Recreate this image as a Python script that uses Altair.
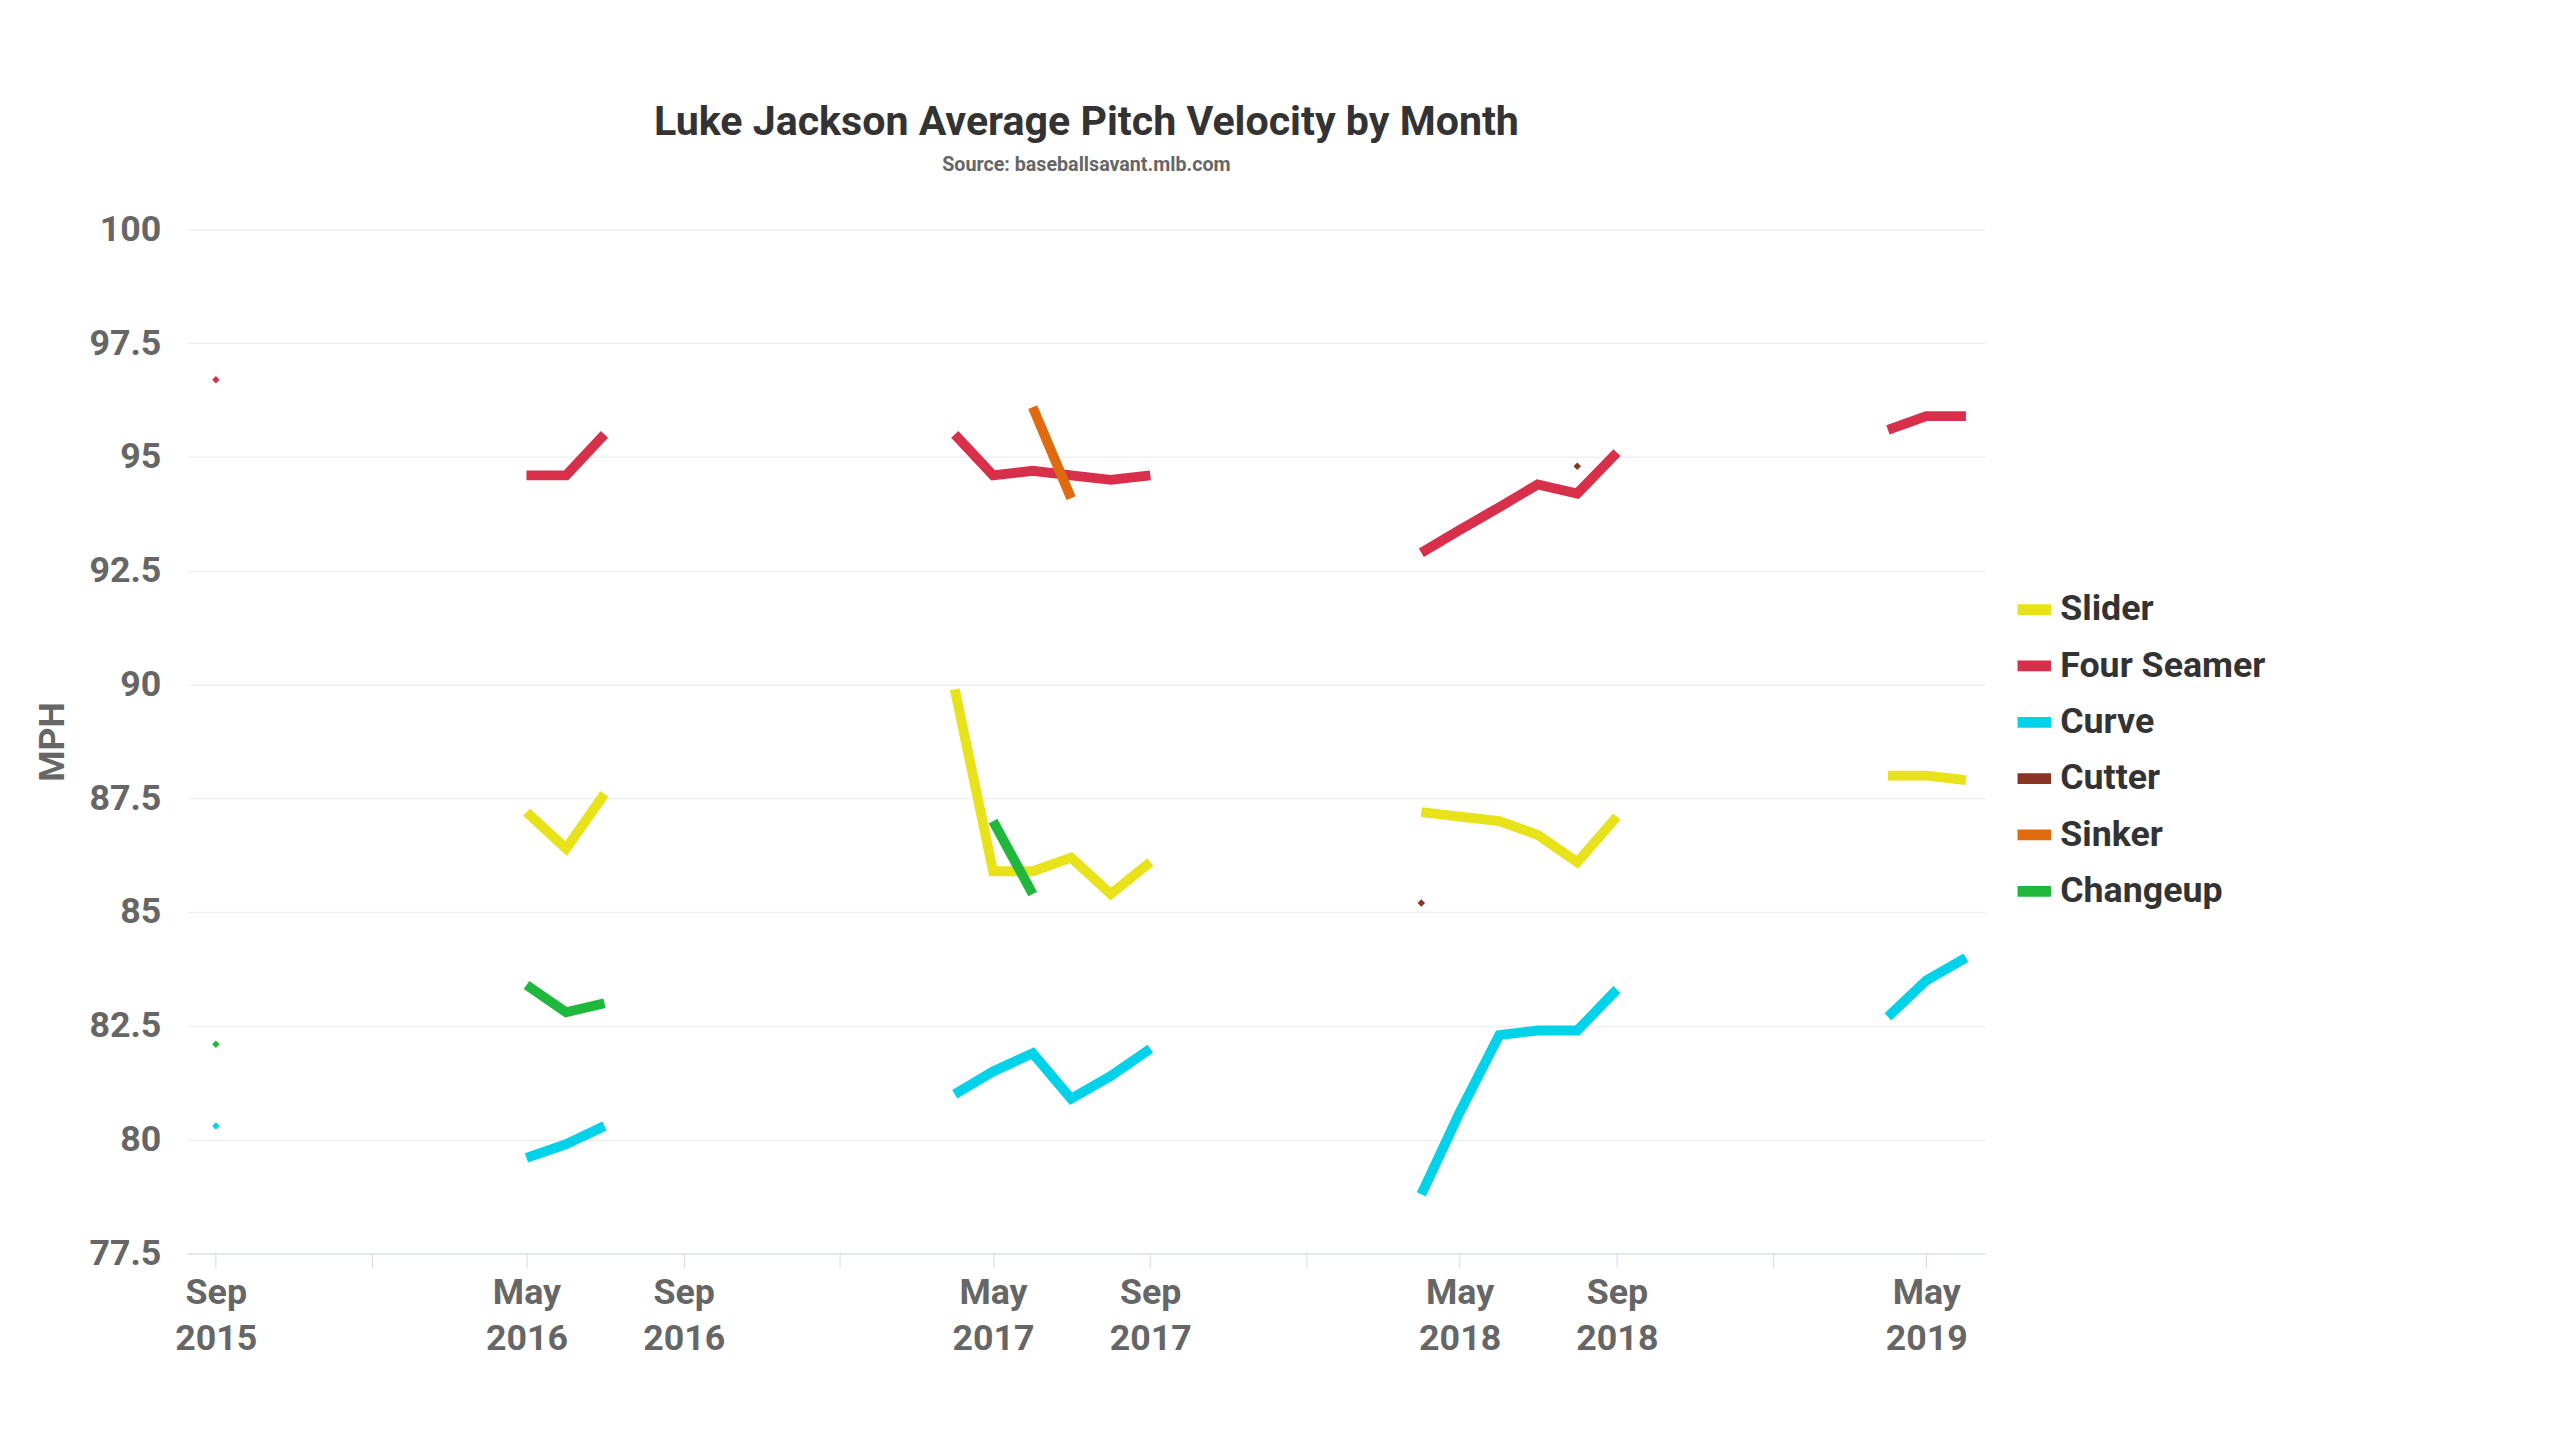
import altair as alt
import pandas as pd

pitches = ['Slider', 'Four Seamer', 'Curve', 'Cutter', 'Sinker', 'Changeup']
colors = ['#e8e21b', '#d8304b', '#00d2ea', '#8a3424', '#e06a10', '#20b83c']

# (month, mph)
four_seamer = [('2015-09', 96.7),
               ('2016-05', 94.6), ('2016-06', 94.6), ('2016-07', 95.5),
               ('2017-04', 95.5), ('2017-05', 94.6), ('2017-06', 94.7), ('2017-07', 94.6),
               ('2017-08', 94.5), ('2017-09', 94.6),
               ('2018-04', 92.9), ('2018-05', 93.4), ('2018-06', 93.9), ('2018-07', 94.4),
               ('2018-08', 94.2), ('2018-09', 95.1),
               ('2019-04', 95.6), ('2019-05', 95.9), ('2019-06', 95.9)]
slider = [('2016-05', 87.2), ('2016-06', 86.4), ('2016-07', 87.6),
          ('2017-04', 89.9), ('2017-05', 85.9), ('2017-06', 85.9), ('2017-07', 86.2),
          ('2017-08', 85.4), ('2017-09', 86.1),
          ('2018-04', 87.2), ('2018-05', 87.1), ('2018-06', 87.0), ('2018-07', 86.7),
          ('2018-08', 86.1), ('2018-09', 87.1),
          ('2019-04', 88.0), ('2019-05', 88.0), ('2019-06', 87.9)]
curve = [('2015-09', 80.3),
         ('2016-05', 79.6), ('2016-06', 79.9), ('2016-07', 80.3),
         ('2017-04', 81.0), ('2017-05', 81.5), ('2017-06', 81.9), ('2017-07', 80.9),
         ('2017-08', 81.4), ('2017-09', 82.0),
         ('2018-04', 78.8), ('2018-05', 80.6), ('2018-06', 82.3), ('2018-07', 82.4),
         ('2018-08', 82.4), ('2018-09', 83.3),
         ('2019-04', 82.7), ('2019-05', 83.5), ('2019-06', 84.0)]
cutter = [('2018-04', 85.2), ('2018-08', 94.8)]
sinker = [('2017-06', 96.1), ('2017-07', 94.1)]
changeup = [('2015-09', 82.1),
            ('2016-05', 83.4), ('2016-06', 82.8), ('2016-07', 83.0),
            ('2017-05', 87.0), ('2017-06', 85.4)]

series = dict(zip(pitches, [slider, four_seamer, curve, cutter, sinker, changeup]))
rows = []
for name, pts in series.items():
    idx = [int(m[:4]) * 12 + int(m[5:]) for m, _ in pts]
    seg = 0
    for i, (m, v) in enumerate(pts):
        if i > 0 and idx[i] - idx[i - 1] > 1:
            seg += 1
        lone = (i == 0 or idx[i] - idx[i - 1] > 1) and \
               (i == len(pts) - 1 or idx[i + 1] - idx[i] > 1)
        rows.append({'Pitch': name, 'Month': m + '-01', 'MPH': v,
                     'Segment': f'{name}-{seg}', 'Lone': lone})
df = pd.DataFrame(rows)

tick_dates = [alt.DateTime(year=y, month=m, date=1, utc=True)
              for y, m in [(2015, 9), (2016, 1), (2016, 5), (2016, 9), (2017, 1), (2017, 5),
                           (2017, 9), (2018, 1), (2018, 5), (2018, 9), (2019, 1), (2019, 5)]]

x = alt.X('Month:T', title=None,
          scale=alt.Scale(type='utc',
                          domain=[alt.DateTime(year=2015, month=8, date=10, utc=True),
                                  alt.DateTime(year=2019, month=6, date=16, utc=True)]),
          axis=alt.Axis(values=tick_dates, grid=False, labelFontSize=40,
                        labelFont='Roboto', labelFontWeight='bold', labelColor='#666666',
                        labelPadding=8, tickSize=16, tickColor='#ccd6eb',
                        domainColor='#ccd6eb', labelLineHeight=52,
                        labelExpr="utcmonth(datum.value) == 0 ? '' : "
                                  "[utcFormat(datum.value, '%b'), utcFormat(datum.value, '%Y')]"))
y = alt.Y('MPH:Q', title='MPH',
          scale=alt.Scale(domain=[77.5, 100], nice=False, zero=False),
          axis=alt.Axis(values=[77.5, 80, 82.5, 85, 87.5, 90, 92.5, 95, 97.5, 100],
                        labelExpr="format(datum.value, '')",
                        domain=False, ticks=False, gridColor='#e6e6e6',
                        labelFontSize=40, labelFont='Roboto', labelFontWeight='bold',
                        labelColor='#666666', labelPadding=30,
                        titleFontSize=40, titleFont='Roboto', titleColor='#666666',
                        titlePadding=20))
color = alt.Color('Pitch:N', sort=pitches,
                  scale=alt.Scale(domain=pitches, range=colors),
                  legend=alt.Legend(title=None, symbolType='stroke', symbolStrokeWidth=12,
                                    symbolSize=1400, labelFontSize=40, labelFont='Roboto',
                                    labelFontWeight='bold', labelColor='#333333',
                                    rowPadding=14, orient='none', legendX=2040,
                                    legendY=400, labelLimit=400))

base = alt.Chart(df)
lines = base.mark_line(strokeWidth=11).encode(x=x, y=y, color=color, detail='Segment:N')
dots = base.transform_filter('datum.Lone').mark_point(
    filled=True, size=70, shape='diamond', opacity=1).encode(x=x, y=y, color=color)

chart = (lines + dots).properties(
    width=2010, height=1145,
    title=alt.Title('Luke Jackson Average Pitch Velocity by Month',
                    subtitle='Source: baseballsavant.mlb.com',
                    fontSize=46, font='Roboto', fontWeight='bold', color='#333333',
                    subtitleFontSize=22, subtitleFont='Roboto', subtitleFontWeight='bold',
                    subtitleColor='#666666', subtitlePadding=14, offset=40,
                    anchor='middle'),
    background='white', padding={'left': 30, 'top': 20, 'right': 320, 'bottom': 10}
).configure_view(stroke=None)

chart.save('out.html', embed_options={'renderer': 'svg', 'actions': False})
